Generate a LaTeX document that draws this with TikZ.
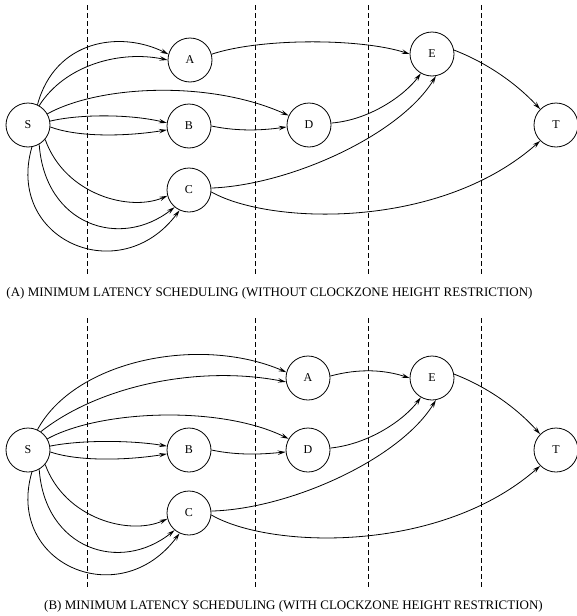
\documentclass[tikz,border=0pt]{standalone}
\usepackage{fontspec}
\setmainfont{Liberation Serif}
\usetikzlibrary{arrows.meta}
\begin{document}
\begin{tikzpicture}[x=1pt,y=-1pt,
  vert/.style={circle,draw,line width=0.8pt,minimum size=44pt,inner sep=0pt,font=\fontsize{12}{12}\selectfont},
  edge/.style={line width=0.8pt,-{Stealth[open,length=8pt,width=4.5pt,inset=3pt]}},
  zone/.style={line width=0.8pt,dash pattern=on 5pt off 3pt},
  captext/.style={font=\fontsize{13}{13}\selectfont,inner sep=0pt}]
\useasboundingbox (0,0) rectangle (577,616);
% clock zone separators
\foreach \x in {87,255,368,481}{
  \draw[zone] (\x,5) -- (\x,275);
  \draw[zone] (\x,318) -- (\x,588);
}
% ---------- panel A ----------
\node[vert] (sA) at (28,125) {S};
\node[vert] (aA) at (190,60) {A};
\node[vert] (bA) at (189,126) {B};
\node[vert] (cA) at (189,190) {C};
\node[vert] (dA) at (309,125) {D};
\node[vert] (eA) at (432,54) {E};
\node[vert] (tA) at (556,125) {T};
\draw[edge] (sA.65) .. controls (55,40) and (120,30) .. (aA.165);
\draw[edge] (sA.60) .. controls (65,65) and (120,50) .. (aA.180);
\draw[edge] (sA.30) .. controls (100,85) and (210,80) .. (dA.155);
\draw[edge] (sA.10) .. controls (80,114) and (130,114) .. (bA.172);
\draw[edge] (sA.-5) .. controls (80,138) and (130,136) .. (bA.190);
\draw[edge] (sA.-40) .. controls (65,195) and (130,212) .. (cA.195);
\draw[edge] (sA.-60) .. controls (45,225) and (120,250) .. (cA.230);
\draw[edge] (sA.-80) .. controls (5,240) and (120,290) .. (cA.245);
\draw[edge] (aA.15) .. controls (260,38) and (360,38) .. (eA.180);
\draw[edge] (bA.0) .. controls (240,132) and (265,130) .. (dA.185);
\draw[edge] (dA.5) .. controls (370,120) and (405,95) .. (eA.-120);
\draw[edge] (cA.5) .. controls (290,185) and (400,135) .. (eA.-80);
\draw[edge] (cA.-5) .. controls (270,225) and (440,230) .. (tA.-135);
\draw[edge] (eA.10) .. controls (485,62) and (515,82) .. (tA.135);
\node[captext] (capA) at (269.5,293) {(A) MINIMUM LATENCY SCHEDULING (WITHOUT CLOCKZONE HEIGHT RESTRICTION)};
% ---------- panel B ----------
\node[vert] (sB) at (28,450) {S};
\node[vert] (aB) at (308,378) {A};
\node[vert] (bB) at (189,450) {B};
\node[vert] (cB) at (189,513) {C};
\node[vert] (dB) at (308,450) {D};
\node[vert] (eB) at (432,378) {E};
\node[vert] (tB) at (556,450) {T};
\draw[edge] (sB.65) .. controls (75,360) and (200,335) .. (aB.165);
\draw[edge] (sB.55) .. controls (100,385) and (200,365) .. (aB.190);
\draw[edge] (sB.30) .. controls (100,410) and (220,405) .. (dB.150);
\draw[edge] (sB.10) .. controls (80,440) and (130,440) .. (bB.170);
\draw[edge] (sB.-5) .. controls (80,462) and (130,460) .. (bB.190);
\draw[edge] (sB.-40) .. controls (65,519) and (130,536) .. (cB.195);
\draw[edge] (sB.-60) .. controls (45,549) and (120,574) .. (cB.230);
\draw[edge] (sB.-80) .. controls (5,564) and (120,614) .. (cB.245);
\draw[edge] (aB.5) .. controls (360,368) and (385,370) .. (eB.180);
\draw[edge] (bB.0) .. controls (240,456) and (265,454) .. (dB.185);
\draw[edge] (dB.5) .. controls (370,444) and (405,419) .. (eB.-120);
\draw[edge] (cB.5) .. controls (290,509) and (400,459) .. (eB.-80);
\draw[edge] (cB.-5) .. controls (270,549) and (440,554) .. (tB.-135);
\draw[edge] (eB.10) .. controls (485,386) and (515,406) .. (tB.135);
\node[captext] (capB) at (293.5,606) {(B) MINIMUM LATENCY SCHEDULING (WITH CLOCKZONE HEIGHT RESTRICTION)};
\end{tikzpicture}
\end{document}
